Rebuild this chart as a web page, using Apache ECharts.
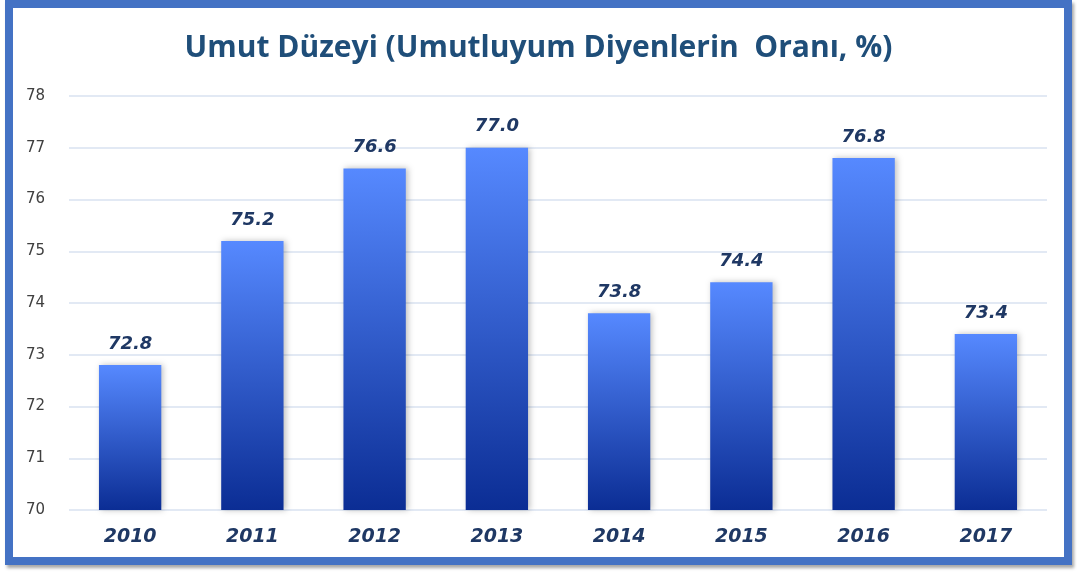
<!DOCTYPE html>
<html>
<head>
<meta charset="utf-8">
<script src="https://cdn.jsdelivr.net/npm/echarts@6/dist/echarts.min.js"></script>
<style>
  html, body { margin: 0; padding: 0; background: #fff; }
  .frame {
    position: absolute; left: 5px; top: 0; width: 1051px; height: 549px;
    border: 8px solid #4472c4; box-shadow: 2px 3px 3px rgba(0,0,0,0.35);
    background: #fff;
  }
  #chart { position: absolute; left: 0; top: 0; width: 1077px; height: 573px; }
</style>
</head>
<body>
<div class="frame"></div>
<div id="chart"></div>
<script>
const years = ['2010', '2011', '2012', '2013', '2014', '2015', '2016', '2017'];
const hopeLevel = [72.8, 75.2, 76.6, 77.0, 73.8, 74.4, 76.8, 73.4];
const yTicks = [70, 71, 72, 73, 74, 75, 76, 77, 78];

const chart = echarts.init(document.getElementById('chart'));

chart.setOption({
  backgroundColor: 'transparent',
  animation: false,
  title: {
    text: 'Umut Düzeyi (Umutluyum Diyenlerin  Oranı, %)',
    left: 'center',
    top: 28,
    textStyle: {
      color: '#1f4e79',
      fontFamily: 'Open Sans',
      fontSize: 30,
      fontWeight: 'bold'
    }
  },
  grid: {
    left: 69,
    right: 30,
    top: 96,
    bottom: 63
  },
  xAxis: {
    type: 'category',
    data: years,
    axisLine: { show: false },
    axisTick: { show: false },
    axisLabel: {
      color: '#1f3864',
      fontFamily: 'DejaVu Sans',
      fontSize: 19,
      fontStyle: 'italic',
      fontWeight: 'bold',
      margin: 18
    }
  },
  yAxis: {
    type: 'value',
    min: yTicks[0],
    max: yTicks[yTicks.length - 1],
    interval: 1,
    axisLine: { show: false },
    axisTick: { show: false },
    splitLine: {
      lineStyle: { color: '#d9e2f0', width: 1.5 }
    },
    axisLabel: {
      color: '#404040',
      fontFamily: 'DejaVu Sans',
      fontSize: 15,
      align: 'left',
      margin: 43
    }
  },
  series: [
    {
      type: 'bar',
      data: hopeLevel,
      barWidth: '51%',
      itemStyle: {
        color: new echarts.graphic.LinearGradient(0, 0, 0, 1, [
          { offset: 0, color: '#5689ff' },
          { offset: 1, color: '#0b2d94' }
        ]),
        shadowColor: 'rgba(0, 0, 0, 0.25)',
        shadowBlur: 6,
        shadowOffsetX: 2,
        shadowOffsetY: 0
      },
      label: {
        show: true,
        position: 'top',
        distance: 12,
        formatter: (p) => p.value.toFixed(1),
        color: '#1f3864',
        fontFamily: 'DejaVu Sans',
        fontSize: 18,
        fontStyle: 'italic',
        fontWeight: 'bold'
      }
    }
  ]
});
</script>
</body>
</html>
